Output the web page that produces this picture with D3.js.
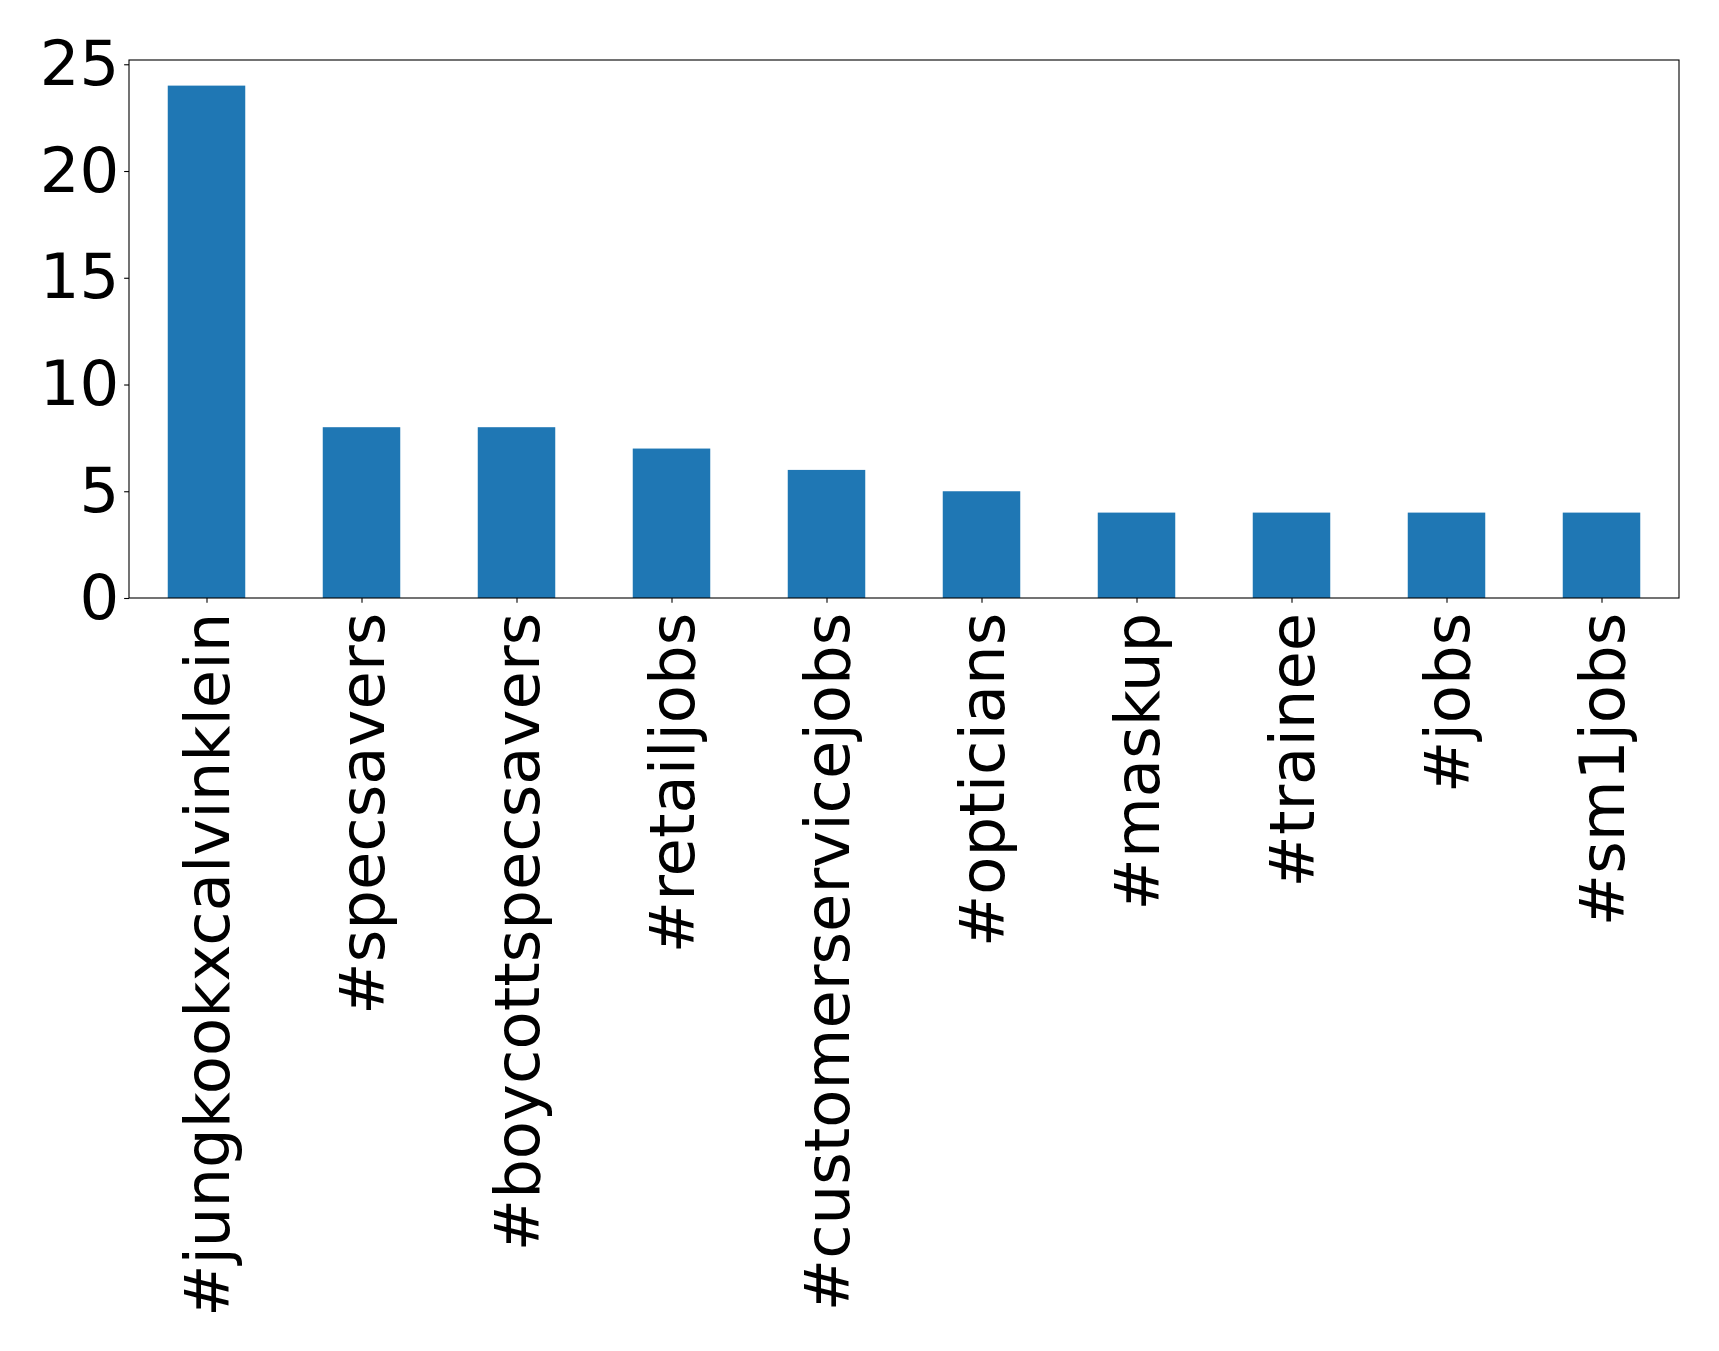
<!DOCTYPE html>
<html>
<head>
<meta charset="utf-8">
<script src="https://cdn.jsdelivr.net/npm/d3@7"></script>
<style>
  html, body { margin: 0; padding: 0; background: #fff; }
  svg { display: block; }
  text { font-family: "DejaVu Sans", sans-serif; }
</style>
</head>
<body>
<div id="chart"></div>
<script>
const categories = ["#jungkookxcalvinklein", "#specsavers", "#boycottspecsavers", "#retailjobs",
  "#customerservicejobs", "#opticians", "#maskup", "#trainee", "#jobs", "#sm1jobs"];
const values = [24, 8, 8, 7, 6, 5, 4, 4, 4, 4];
const yTicks = [0, 5, 10, 15, 20, 25];

(function () {
const W = 1719, H = 1351;
const mLeft = 129, mRight = 1679, mTop = 60, mBottom = 598;
const fontSize = 62.5;
const tickLen = 4.86, pad = 4.86;

const svg = d3.select("#chart").append("svg").attr("width", W).attr("height", H);

const x = d3.scaleLinear().domain([-0.5, categories.length - 0.5]).range([mLeft, mRight]);
const ymax = d3.max(values) * 1.05;
const y = d3.scaleLinear().domain([0, ymax]).range([mBottom, mTop]);

// bars
svg.append("g").selectAll("rect").data(values).join("rect")
  .attr("x", (d, i) => x(i - 0.25))
  .attr("width", (d, i) => x(i + 0.25) - x(i - 0.25))
  .attr("y", d => y(d))
  .attr("height", d => y(0) - y(d))
  .attr("fill", "#1f77b4");

// y axis
const yAxis = d3.axisLeft(y).tickValues(yTicks).tickSize(tickLen).tickPadding(pad).tickFormat(d3.format("d"));
const gy = svg.append("g").attr("transform", `translate(${mLeft},0)`).call(yAxis);
gy.select(".domain").remove();
gy.selectAll("line").attr("stroke", "#000").attr("stroke-width", 1.1);
gy.selectAll("text").attr("font-size", fontSize).attr("fill", "#000")
  .attr("font-family", "DejaVu Sans");

// x axis
const xAxis = d3.axisBottom(x).tickValues(d3.range(categories.length)).tickSize(tickLen)
  .tickFormat(i => categories[i]);
const gx = svg.append("g").attr("transform", `translate(0,${mBottom})`).call(xAxis);
gx.select(".domain").remove();
gx.selectAll("line").attr("stroke", "#000").attr("stroke-width", 1.1);
gx.selectAll("text")
  .attr("font-size", fontSize).attr("fill", "#000").attr("font-family", "DejaVu Sans")
  .attr("text-anchor", "end")
  .attr("transform", `translate(0,${tickLen + pad + 5}) rotate(-90)`)
  .attr("x", 0).attr("y", 0).attr("dy", "0.35em");

// frame
svg.append("rect").attr("x", mLeft).attr("y", mTop)
  .attr("width", mRight - mLeft).attr("height", mBottom - mTop)
  .attr("fill", "none").attr("stroke", "#000").attr("stroke-width", 1.1);
})();
</script>
</body>
</html>
